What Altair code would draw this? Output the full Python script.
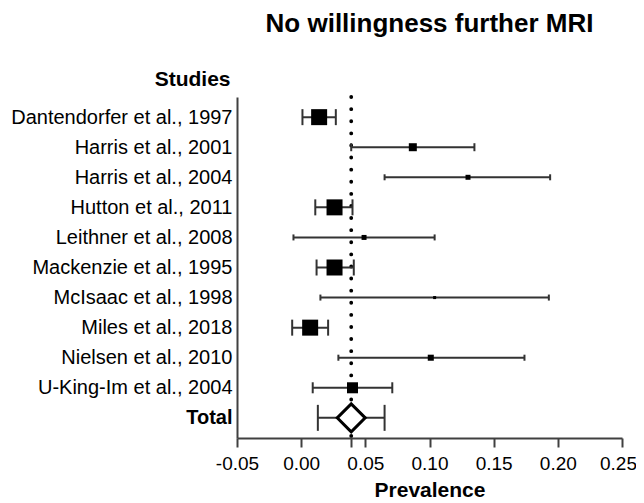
import altair as alt
import pandas as pd
import math

studies = [
    "Dantendorfer et al., 1997",
    "Harris et al., 2001",
    "Harris et al., 2004",
    "Hutton et al., 2011",
    "Leithner et al., 2008",
    "Mackenzie et al., 1995",
    "McIsaac et al., 1998",
    "Miles et al., 2018",
    "Nielsen et al., 2010",
    "U-King-Im et al., 2004",
    "Total",
]
estimate = [0.014, 0.087, 0.130, 0.026, 0.049, 0.026, 0.104, 0.007, 0.101, 0.040, 0.039]
ci_low = [0.001, 0.039, 0.065, 0.011, -0.006, 0.012, 0.015, -0.007, 0.029, 0.009, 0.013]
ci_high = [0.027, 0.135, 0.194, 0.040, 0.104, 0.041, 0.193, 0.021, 0.174, 0.071, 0.065]
weight = [19.6, 4.9, 1.9, 19.6, 1.9, 19.6, 0.7, 19.6, 2.8, 9.3, 100.0]
tick_values = [-0.05, 0.00, 0.05, 0.10, 0.15, 0.20, 0.25]

FONT = "Liberation Sans"
W, H = 385, 341
BOX_MAX = 16
wmax = max(weight[:-1])

cap = []
for s, w in zip(studies, weight):
    if s == "Total":
        cap.append(26)
    else:
        cap.append(max(6, BOX_MAX * math.sqrt(w / wmax)))

df = pd.DataFrame({
    "study": studies, "est": estimate, "lo": ci_low, "hi": ci_high,
    "weight": weight, "cap": cap,
})
pooled = estimate[-1]

x_scale = alt.Scale(domain=[-0.05, 0.25], nice=False, zero=False)
label_expr = ("abs(datum.value - %s) < 0.0001 ? '' : "
              "replace(format(datum.value, '.2f'), '\u2212', '-')") % pooled

x_enc = dict(
    scale=x_scale,
    axis=alt.Axis(
        title="Prevalence", values=tick_values + [pooled], labelExpr=label_expr,
        grid=False, domainColor="#404040", domainWidth=2, tickColor="#404040",
        tickWidth=2, tickSize=9, labelFontSize=19, labelFont=FONT, labelColor="black",
        labelPadding=7,
        labelOffset={"condition": {"test": "datum.value > 0.24", "value": -4}, "value": 0},
        titleFontSize=21, titleFont=FONT, titleFontWeight="bold",
        titleColor="black", titlePadding=6, labelFlush=False,
    ),
)

y_axis = alt.Axis(
    title="Studies", titleAngle=0, titleAlign="right", titleBaseline="alphabetic",
    titleX=-7, titleY=-12, titleFontSize=21, titleFont=FONT, titleFontWeight="bold",
    titleColor="black", ticks=False, domainColor="#404040", domainWidth=2,
    labelFontSize=20, labelFont=FONT, labelColor="black", labelPadding=5,
    labelFontWeight={"condition": {"test": "datum.label == 'Total'", "value": "bold"},
                     "value": "normal"},
    labelLimit=400,
)

base = alt.Chart(df).encode(
    y=alt.Y("study:N", sort=studies, scale=alt.Scale(type="point", padding=0.67), axis=y_axis)
)

ref = base.transform_filter("datum.study == 'Total'").mark_rule(
    strokeDash=[0.1, 12], strokeCap="round", strokeWidth=3.8, color="black"
).encode(x=alt.X("est:Q", **x_enc), y=alt.value(0), y2=alt.value(H))

lines = base.mark_rule(strokeWidth=2, color="#333333").encode(
    x=alt.X("lo:Q", **x_enc), x2="hi:Q"
)
caps_lo = base.mark_tick(thickness=2, color="#333333", opacity=1).encode(
    x=alt.X("lo:Q", **x_enc), size=alt.Size("cap:Q", scale=None, legend=None)
)
caps_hi = base.mark_tick(thickness=2, color="#333333", opacity=1).encode(
    x=alt.X("hi:Q", **x_enc), size=alt.Size("cap:Q", scale=None, legend=None)
)
squares = base.transform_filter("datum.study != 'Total'").mark_square(
    color="black", opacity=1
).encode(
    x=alt.X("est:Q", **x_enc),
    size=alt.Size("weight:Q", scale=alt.Scale(domain=[0, wmax], range=[0, BOX_MAX ** 2]),
                  legend=None),
)
diamond = base.transform_filter("datum.study == 'Total'").mark_point(
    shape="diamond", filled=True, fill="white", stroke="black", strokeWidth=3,
    size=784, opacity=1
).encode(x=alt.X("est:Q", **x_enc))

chart = alt.layer(ref, lines, caps_lo, caps_hi, squares, diamond).resolve_scale(
    size="independent"
).properties(
    width=W, height=H,
    title=alt.TitleParams("No willingness further MRI", fontSize=26, fontWeight="bold",
                          font=FONT, color="black", anchor="middle", offset=31),
    autosize=alt.AutoSizeParams(type="none"),
    padding={"left": 229, "top": 89, "right": 14, "bottom": 63},
).configure_view(stroke=None)

chart.save("out.html", embed_options={"renderer": "svg", "actions": False})
